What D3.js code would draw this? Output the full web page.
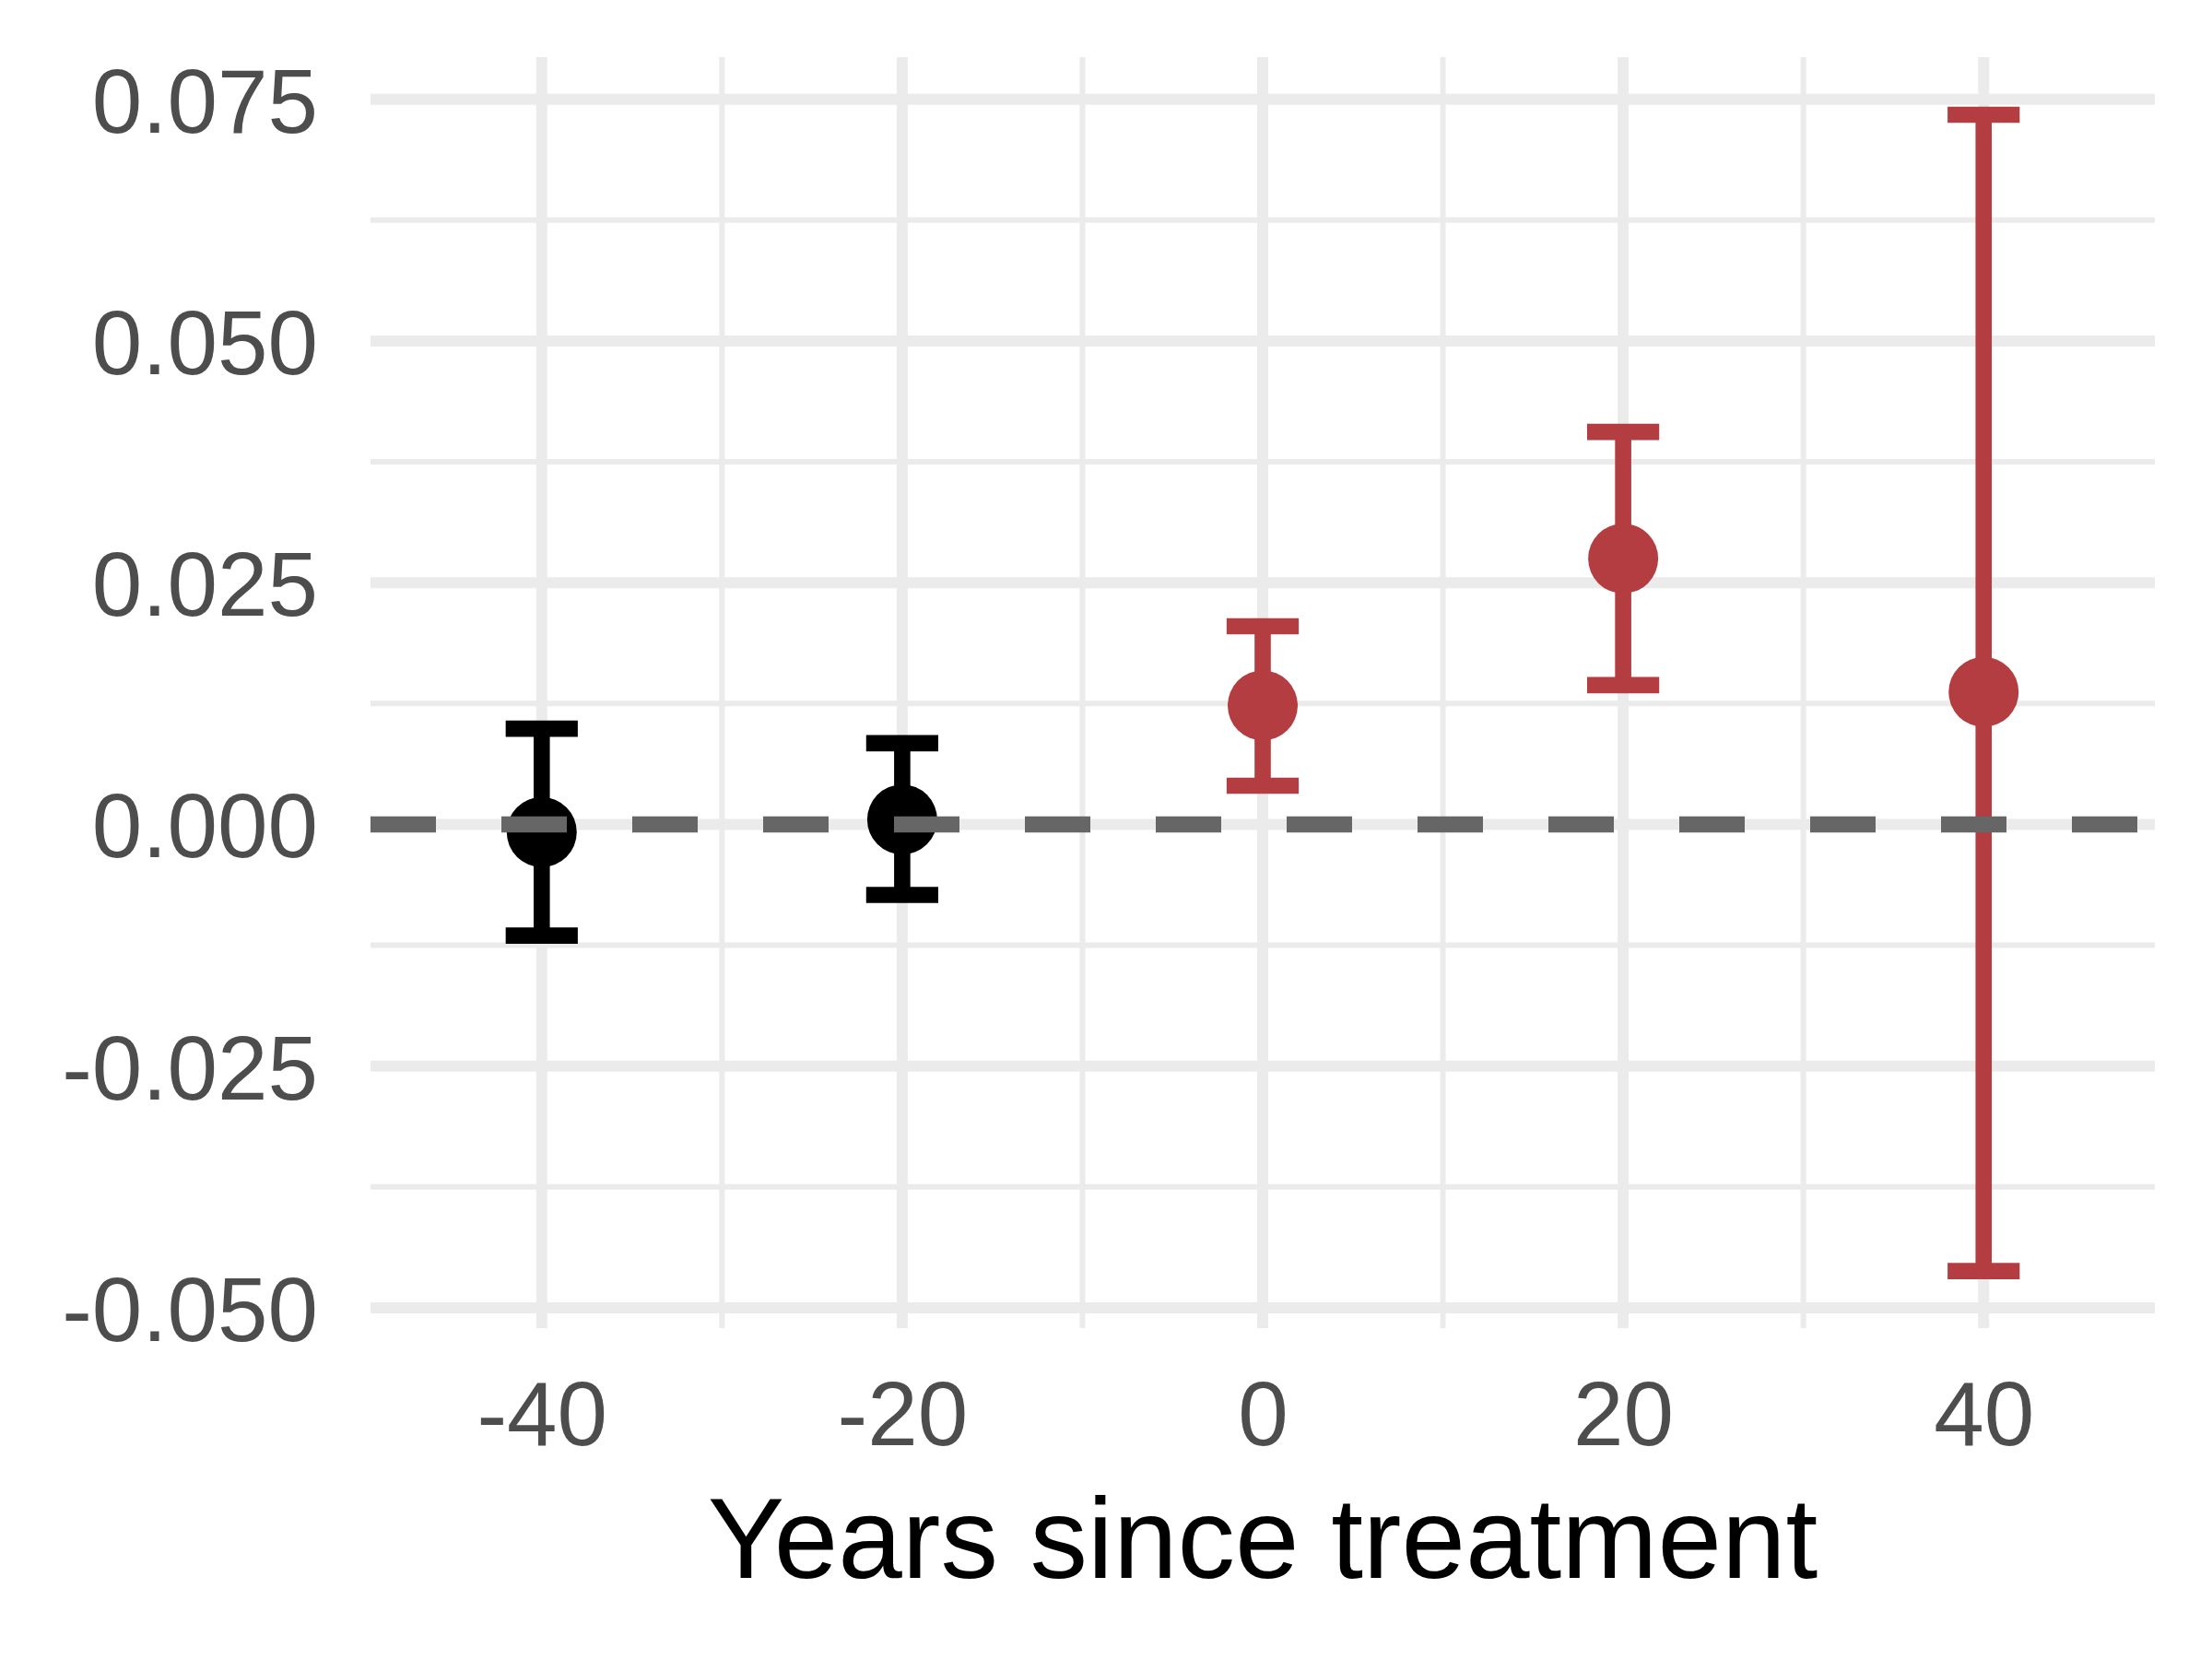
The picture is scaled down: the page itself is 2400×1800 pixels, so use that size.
<!DOCTYPE html>
<html>
<head>
<meta charset="utf-8">
<script src="https://cdn.jsdelivr.net/npm/d3@7"></script>
<style>
  body { margin: 0; background: #fff; }
  svg { display: block; font-family: "Liberation Sans", Arial, sans-serif; }
</style>
</head>
<body>
<svg id="chart" width="2400" height="1800"></svg>
<script>
//
// Data
//
var years = [-40, -20, 0, 20, 40];
var estimates = [-0.0008, 0.0005, 0.0123, 0.0275, 0.0137];
var lower = [-0.0115, -0.0073, 0.0040, 0.0144, -0.0462];
var upper = [0.0099, 0.0084, 0.0205, 0.0406, 0.0734];
var period = ["pre", "pre", "post", "post", "post"];

var y_ticks = [-0.05, -0.025, 0, 0.025, 0.05, 0.075];
var y_minor = [-0.0375, -0.0125, 0.0125, 0.0375, 0.0625];
var x_ticks = [-40, -20, 0, 20, 40];
var x_minor = [-30, -10, 10, 30];

var colors = { pre: "#000000", post: "#B33D40" };
var grid = "#EBEBEB";

//
// Scales
//
var panel = { left: 402, right: 2338, top: 62, bottom: 1441 };

var x = d3.scaleLinear().domain([-49.5, 49.5]).range([panel.left, panel.right]);
var y = d3.scaleLinear().domain([-0.0521, 0.07936]).range([panel.bottom, panel.top]);

var svg = d3.select("#chart");

// grid
var g_grid = svg.append("g");

g_grid.selectAll("line.ymin").data(y_minor).enter().append("line")
    .attr("x1", panel.left).attr("x2", panel.right)
    .attr("y1", function (d) { return y(d); }).attr("y2", function (d) { return y(d); })
    .style("stroke", grid).style("stroke-width", 6);

g_grid.selectAll("line.xmin").data(x_minor).enter().append("line")
    .attr("y1", panel.top).attr("y2", panel.bottom)
    .attr("x1", function (d) { return x(d); }).attr("x2", function (d) { return x(d); })
    .style("stroke", grid).style("stroke-width", 6);

g_grid.selectAll("line.ymaj").data(y_ticks).enter().append("line")
    .attr("x1", panel.left).attr("x2", panel.right)
    .attr("y1", function (d) { return y(d); }).attr("y2", function (d) { return y(d); })
    .style("stroke", grid).style("stroke-width", 12);

g_grid.selectAll("line.xmaj").data(x_ticks).enter().append("line")
    .attr("y1", panel.top).attr("y2", panel.bottom)
    .attr("x1", function (d) { return x(d); }).attr("x2", function (d) { return x(d); })
    .style("stroke", grid).style("stroke-width", 12);

// axes (labels only)
var yAxis = svg.append("g")
    .attr("transform", "translate(" + panel.left + ",0)")
    .call(d3.axisLeft(y).tickValues(y_ticks).tickSize(0).tickPadding(57)
        .tickFormat(function (d) { return d.toFixed(3); }));

var xAxis = svg.append("g")
    .attr("transform", "translate(0," + panel.bottom + ")")
    .call(d3.axisBottom(x).tickValues(x_ticks).tickSize(0).tickPadding(57)
        .tickFormat(function (d) { return String(d); }));

[yAxis, xAxis].forEach(function (ax) {
    ax.select(".domain").remove();
    ax.selectAll("text")
        .style("font-size", "98px")
        .style("font-family", "'Liberation Sans', Arial, sans-serif")
        .style("fill", "#4D4D4D");
});
yAxis.selectAll("text").attr("dy", "0.36em");

svg.append("text")
    .attr("x", (panel.left + panel.right) / 2)
    .attr("y", 1712)
    .attr("text-anchor", "middle")
    .style("font-size", "125px")
    .style("fill", "#000")
    .text("Years since treatment");

//
// Error bars and points
//
var rows = years.map(function (yr, i) {
    return { year: yr, est: estimates[i], lo: lower[i], hi: upper[i], period: period[i] };
});

var lw = 17.6;
var half = 2; // half cap width, in years

var bars = svg.append("g").selectAll("g").data(rows).enter().append("g")
    .style("stroke", function (d) { return colors[d.period]; })
    .style("stroke-width", lw)
    .style("fill", "none");

bars.append("line")
    .attr("x1", function (d) { return x(d.year); }).attr("x2", function (d) { return x(d.year); })
    .attr("y1", function (d) { return y(d.hi); }).attr("y2", function (d) { return y(d.lo); });

bars.append("line")
    .attr("x1", function (d) { return x(d.year - half); }).attr("x2", function (d) { return x(d.year + half); })
    .attr("y1", function (d) { return y(d.hi); }).attr("y2", function (d) { return y(d.hi); });

bars.append("line")
    .attr("x1", function (d) { return x(d.year - half); }).attr("x2", function (d) { return x(d.year + half); })
    .attr("y1", function (d) { return y(d.lo); }).attr("y2", function (d) { return y(d.lo); });

svg.append("g").selectAll("circle").data(rows).enter().append("circle")
    .attr("cx", function (d) { return x(d.year); })
    .attr("cy", function (d) { return y(d.est); })
    .attr("r", 38)
    .style("fill", function (d) { return colors[d.period]; });

// zero reference line, on top
svg.append("line")
    .attr("x1", panel.left).attr("x2", panel.right)
    .attr("y1", y(0)).attr("y2", y(0))
    .style("stroke", "#666666")
    .style("stroke-width", lw)
    .style("stroke-dasharray", "71 71");
</script>
</body>
</html>
